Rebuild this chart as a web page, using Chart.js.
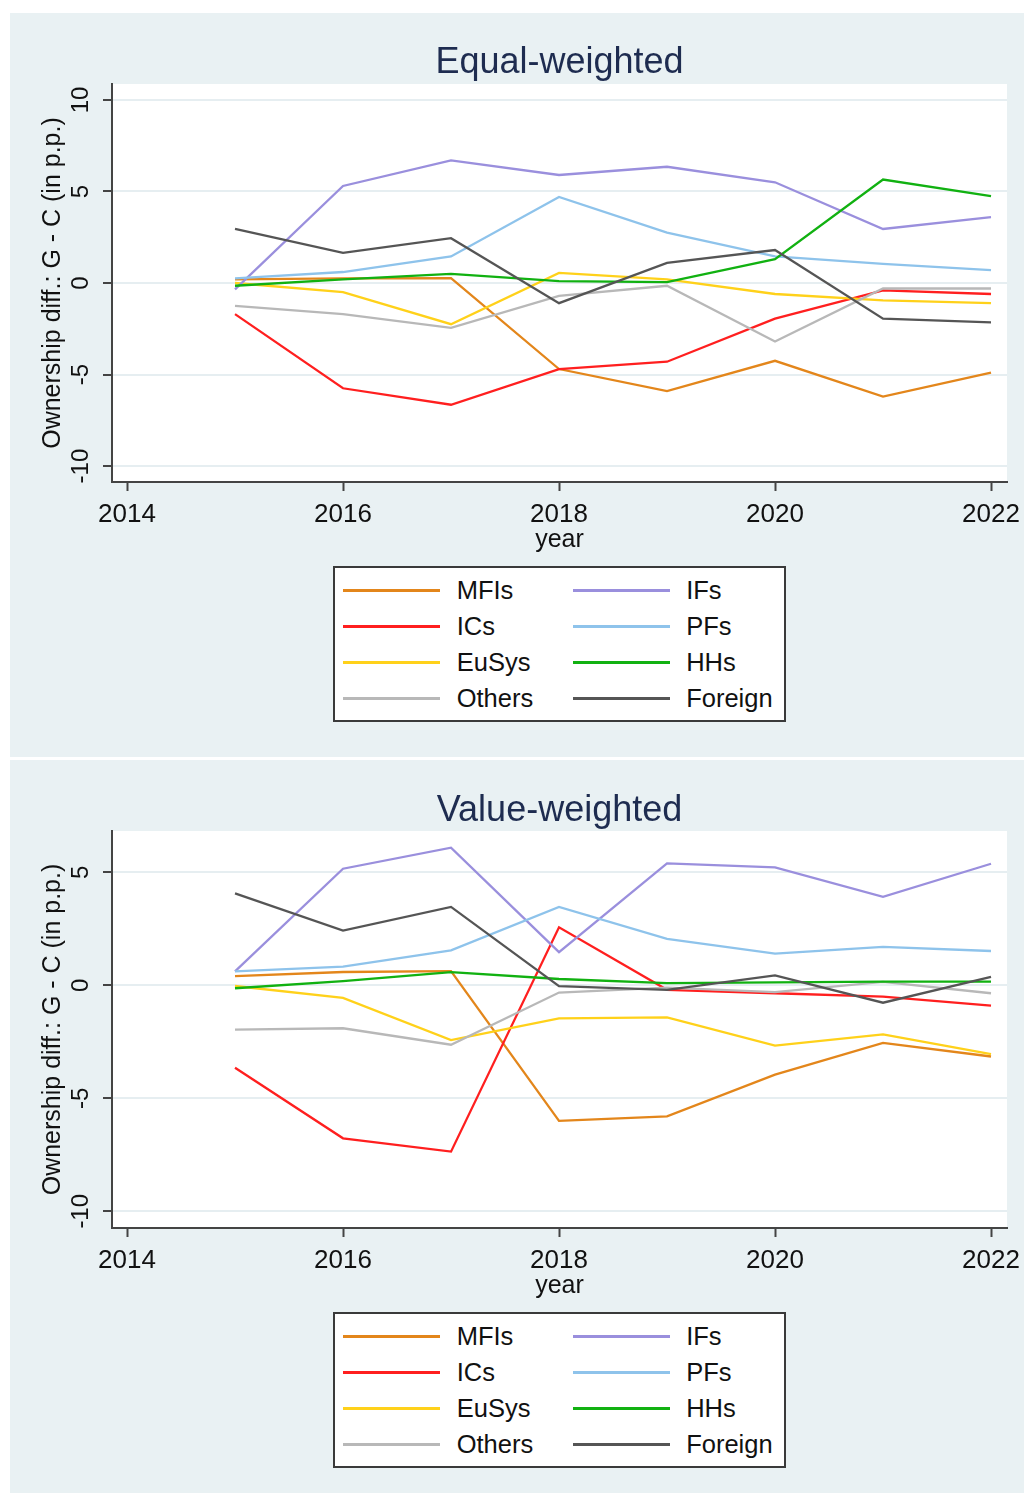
<!DOCTYPE html>
<html>
<head>
<meta charset="utf-8">
<script src="https://cdn.jsdelivr.net/npm/chart.js@4.4.1/dist/chart.umd.min.js"></script>
<style>
  html, body { margin: 0; padding: 0; background: #ffffff; width: 1024px; height: 1493px; overflow: hidden;
               font-family: "Liberation Sans", Arial, sans-serif; }
  .panel { position: absolute; left: 10px; width: 1014px; background: #E9F1F3; overflow: hidden; }
  .panel canvas { position: absolute; left: 0; top: 0; }
  .legend { position: absolute; left: 323px; width: 453px; height: 156px; box-sizing: border-box;
            border: 2px solid #3a3a3a; background: #ffffff; }
  .legend .sw { position: absolute; width: 97px; height: 3px; }
  .legend .lb { position: absolute; font-size: 25.5px; line-height: 36px; color: #111111; white-space: nowrap; }
</style>
</head>
<body>
<div class="panel" style="top:13px;height:744px;">
  <canvas id="chartEqual" width="1014" height="547"></canvas>
  <div class="legend" id="legendEqual" style="top:553px;"></div>
</div>
<div class="panel" style="top:760px;height:733px;">
  <canvas id="chartValue" width="1014" height="546"></canvas>
  <div class="legend" id="legendValue" style="top:552px;"></div>
</div>

<script>
// ---- data ----
const years = [2015, 2016, 2017, 2018, 2019, 2020, 2021, 2022];
const seriesNames = ['MFIs', 'ICs', 'EuSys', 'Others', 'IFs', 'PFs', 'HHs', 'Foreign'];
const seriesColors = ['#E3861B', '#FF1F1F', '#FFD11A', '#B8B8B8', '#9A8FDD', '#8EC3EB', '#11B111', '#555555'];
const xTicks = [2014, 2016, 2018, 2020, 2022];

// Equal-weighted ownership differences (p.p.)
const eqMFIs    = [0.2, 0.25, 0.27, -4.7, -5.9, -4.25, -6.2, -4.9];
const eqICs     = [-1.7, -5.75, -6.65, -4.7, -4.3, -1.95, -0.4, -0.6];
const eqEuSys   = [0.0, -0.5, -2.25, 0.55, 0.2, -0.6, -0.95, -1.1];
const eqOthers  = [-1.25, -1.7, -2.45, -0.7, -0.15, -3.2, -0.3, -0.3];
const eqIFs     = [-0.35, 5.3, 6.7, 5.9, 6.35, 5.5, 2.95, 3.6];
const eqPFs     = [0.25, 0.6, 1.45, 4.7, 2.75, 1.45, 1.05, 0.7];
const eqHHs     = [-0.15, 0.2, 0.5, 0.1, 0.05, 1.3, 5.65, 4.75];
const eqForeign = [2.95, 1.65, 2.45, -1.1, 1.1, 1.8, -1.95, -2.15];
const eqYTicks  = [-10, -5, 0, 5, 10];

// Value-weighted ownership differences (p.p.)
const vwMFIs    = [0.41, 0.59, 0.63, -6.0, -5.8, -3.95, -2.55, -3.15];
const vwICs     = [-3.65, -6.77, -7.36, 2.57, -0.2, -0.35, -0.5, -0.9];
const vwEuSys   = [-0.03, -0.56, -2.42, -1.46, -1.42, -2.67, -2.17, -3.04];
const vwOthers  = [-1.96, -1.9, -2.63, -0.32, -0.1, -0.3, 0.15, -0.35];
const vwIFs     = [0.62, 5.16, 6.09, 1.47, 5.4, 5.22, 3.92, 5.38];
const vwPFs     = [0.62, 0.83, 1.55, 3.47, 2.06, 1.4, 1.7, 1.52];
const vwHHs     = [-0.13, 0.19, 0.58, 0.28, 0.1, 0.13, 0.16, 0.16];
const vwForeign = [4.07, 2.42, 3.47, -0.04, -0.2, 0.44, -0.77, 0.37];
const vwYTicks  = [-10, -5, 0, 5];

// ---- drawing ----
const FONT = '"Liberation Sans", Arial, sans-serif';
const AXIS_COLOR = '#444444';
const TEXT_COLOR = '#111111';

// white plotting region inside the tinted panel
const plotBackground = {
  id: 'plotBackground',
  beforeDraw(chart) {
    const { ctx, chartArea: a } = chart;
    ctx.save();
    ctx.fillStyle = '#ffffff';
    ctx.fillRect(a.left, a.top, a.right - a.left, a.bottom - a.top);
    ctx.restore();
  }
};

// heading centred over the plotting region
const panelHeading = {
  id: 'panelHeading',
  afterDraw(chart, args, opts) {
    const { ctx, chartArea: a } = chart;
    ctx.save();
    ctx.font = '36px ' + FONT;
    ctx.fillStyle = opts.color;
    ctx.textAlign = 'center';
    ctx.textBaseline = 'alphabetic';
    ctx.fillText(opts.text, (a.left + a.right) / 2, opts.baseline);
    ctx.restore();
  }
};

function buildChart(canvasId, legendId, heading, headingBaseline, seriesValues, yTicks, yMin, yMax) {
  const datasets = seriesNames.map((name, i) => ({
    label: name,
    data: years.map((yr, k) => ({ x: yr, y: seriesValues[i][k] })),
    borderColor: seriesColors[i],
    backgroundColor: seriesColors[i],
    borderWidth: 2.3,
    pointRadius: 0,
    tension: 0,
    fill: false,
    order: seriesNames.length - i
  }));

  const chart = new Chart(document.getElementById(canvasId), {
    type: 'line',
    data: { datasets },
    plugins: [plotBackground, panelHeading],
    options: {
      responsive: false,
      animation: false,
      devicePixelRatio: 1,
      layout: { padding: { top: 71, right: 17, bottom: 0, left: 0 } },
      plugins: {
        legend: { display: false },
        tooltip: { enabled: false },
        title: { display: false },
        panelHeading: { text: heading, color: '#1E2C50', baseline: headingBaseline }
      },
      scales: {
        x: {
          type: 'linear',
          min: 2013.861,
          max: 2022.148,
          afterBuildTicks: s => { s.ticks = xTicks.map(v => ({ value: v })); },
          afterFit: s => { s.height = 78; s.paddingLeft = 0; s.paddingRight = 0; },
          ticks: {
            autoSkip: false, minRotation: 0, maxRotation: 0, padding: 8,
            color: TEXT_COLOR, font: { size: 26, family: FONT },
            callback: v => String(v)
          },
          grid: { drawOnChartArea: false, drawTicks: true, tickLength: 9, tickColor: AXIS_COLOR, tickWidth: 2 },
          border: { display: true, color: AXIS_COLOR, width: 2 },
          title: {
            display: true, text: 'year', color: TEXT_COLOR,
            font: { size: 25, family: FONT }, padding: { top: 0, bottom: 5 }
          }
        },
        y: {
          type: 'linear',
          min: yMin,
          max: yMax,
          afterBuildTicks: s => { s.ticks = yTicks.map(v => ({ value: v })); },
          afterFit: s => { s.width = 102; s.paddingTop = 0; s.paddingBottom = 0; },
          ticks: {
            autoSkip: false, minRotation: 90, maxRotation: 90, crossAlign: 'center', padding: 4,
            color: TEXT_COLOR, font: { size: 24, family: FONT },
            callback: v => String(v)
          },
          grid: { color: '#E6EEF1', lineWidth: 2, drawTicks: true, tickLength: 9, tickColor: AXIS_COLOR, tickWidth: 2 },
          border: { display: true, color: AXIS_COLOR, width: 2 },
          title: {
            display: true, text: 'Ownership diff.: G - C (in p.p.)', color: TEXT_COLOR,
            font: { size: 25, family: FONT }, padding: { top: 28, bottom: 0 }
          }
        }
      }
    }
  });

  // two-column key: first four series on the left, the rest on the right
  const box = document.getElementById(legendId);
  chart.data.datasets.forEach((ds, i) => {
    const col = Math.floor(i / 4);
    const row = i % 4;
    const sw = document.createElement('div');
    sw.className = 'sw';
    sw.style.background = ds.borderColor;
    sw.style.left = (8 + col * 229.5) + 'px';
    sw.style.top = (20.5 + row * 36) + 'px';
    box.appendChild(sw);
    const lb = document.createElement('div');
    lb.className = 'lb';
    lb.textContent = ds.label;
    lb.style.left = (121.7 + col * 229.5) + 'px';
    lb.style.top = (4 + row * 36) + 'px';
    box.appendChild(lb);
  });
  return chart;
}

buildChart('chartEqual', 'legendEqual', 'Equal-weighted', 60,
  [eqMFIs, eqICs, eqEuSys, eqOthers, eqIFs, eqPFs, eqHHs, eqForeign],
  eqYTicks, -10.87, 10.87);

buildChart('chartValue', 'legendValue', 'Value-weighted', 61,
  [vwMFIs, vwICs, vwEuSys, vwOthers, vwIFs, vwPFs, vwHHs, vwForeign],
  vwYTicks, -10.74, 6.83);
</script>
</body>
</html>
